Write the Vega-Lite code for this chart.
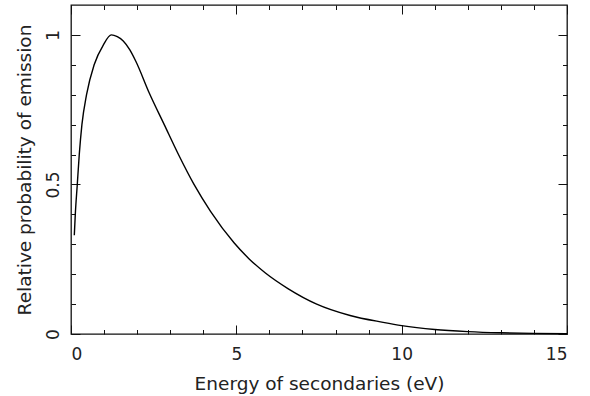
{
  "$schema": "https://vega.github.io/schema/vega-lite/v6.json",
  "width": 496,
  "height": 329,
  "autosize": "none",
  "padding": {"left": 71, "top": 5, "right": 23, "bottom": 62},
  "background": "white",
  "config": {
    "view": {"stroke": "#111", "strokeWidth": 1.3},
    "axis": {"grid": false, "domain": false, "tickColor": "#111", "tickWidth": 1, "labelFont": "DejaVu Sans", "titleFont": "DejaVu Sans", "labelColor": "#222", "titleColor": "#222", "labelFontSize": 17, "titleFontSize": 18.5, "titleFontWeight": "normal"}
  },
  "data": {"values": [
    {"E": 0.10, "P": 0.33},
    {"E": 0.13, "P": 0.40},
    {"E": 0.19, "P": 0.50},
    {"E": 0.25, "P": 0.60},
    {"E": 0.33, "P": 0.70},
    {"E": 0.47, "P": 0.80},
    {"E": 0.70, "P": 0.90},
    {"E": 0.98, "P": 0.967},
    {"E": 1.22, "P": 1.00},
    {"E": 1.40, "P": 0.994},
    {"E": 1.58, "P": 0.980},
    {"E": 1.78, "P": 0.950},
    {"E": 1.96, "P": 0.912},
    {"E": 2.37, "P": 0.805},
    {"E": 2.82, "P": 0.700},
    {"E": 3.25, "P": 0.600},
    {"E": 3.72, "P": 0.500},
    {"E": 4.22, "P": 0.410},
    {"E": 4.93, "P": 0.305},
    {"E": 5.38, "P": 0.252},
    {"E": 5.88, "P": 0.204},
    {"E": 6.56, "P": 0.152},
    {"E": 7.43, "P": 0.100},
    {"E": 8.44, "P": 0.062},
    {"E": 9.44, "P": 0.039},
    {"E": 10.0, "P": 0.028},
    {"E": 11.0, "P": 0.015},
    {"E": 12.0, "P": 0.008},
    {"E": 13.0, "P": 0.004},
    {"E": 14.0, "P": 0.002},
    {"E": 15.0, "P": 0.001}
  ]},
  "layer": [
    {
      "mark": {"type": "line", "color": "#000", "strokeWidth": 1.4, "interpolate": "monotone"},
      "encoding": {
        "x": {"field": "E", "type": "quantitative", "scale": {"domain": [0, 15], "nice": false, "zero": false},
              "axis": {"orient": "bottom", "values": [0, 5, 10, 15], "tickSize": -9, "labelPadding": 21, "format": "d", "title": "Energy of secondaries (eV)", "titlePadding": 12}},
        "y": {"field": "P", "type": "quantitative", "scale": {"domain": [0, 1.1], "nice": false, "zero": false},
              "axis": {"orient": "left", "values": [0, 0.5, 1], "tickSize": -9, "format": "~g", "labelAngle": -90, "labelAlign": "center", "labelBaseline": "bottom", "labelPadding": 18, "title": "Relative probability of emission", "titlePadding": 10}}
      }
    },
    {
      "mark": {"type": "line", "opacity": 0},
      "encoding": {
        "x": {"field": "E", "type": "quantitative",
              "axis": {"orient": "bottom", "values": [1,2,3,4,6,7,8,9,11,12,13,14], "tickSize": -4.5, "labels": false, "title": null}},
        "y": {"field": "P", "type": "quantitative",
              "axis": {"orient": "left", "values": [0.1,0.2,0.3,0.4,0.6,0.7,0.8,0.9], "tickSize": -4.5, "labels": false, "title": null}}
      }
    },
    {
      "mark": {"type": "line", "opacity": 0},
      "encoding": {
        "x": {"field": "E", "type": "quantitative",
              "axis": {"orient": "top", "values": [0, 5, 10, 15], "tickSize": -9, "labels": false, "title": null}},
        "y": {"field": "P", "type": "quantitative",
              "axis": {"orient": "right", "values": [0, 0.5, 1], "tickSize": -9, "labels": false, "title": null}}
      }
    },
    {
      "mark": {"type": "line", "opacity": 0},
      "encoding": {
        "x": {"field": "E", "type": "quantitative",
              "axis": {"orient": "top", "values": [1,2,3,4,6,7,8,9,11,12,13,14], "tickSize": -4.5, "labels": false, "title": null}},
        "y": {"field": "P", "type": "quantitative",
              "axis": {"orient": "right", "values": [0.1,0.2,0.3,0.4,0.6,0.7,0.8,0.9], "tickSize": -4.5, "labels": false, "title": null}}
      }
    }
  ],
  "resolve": {"axis": {"x": "independent", "y": "independent"}}
}
